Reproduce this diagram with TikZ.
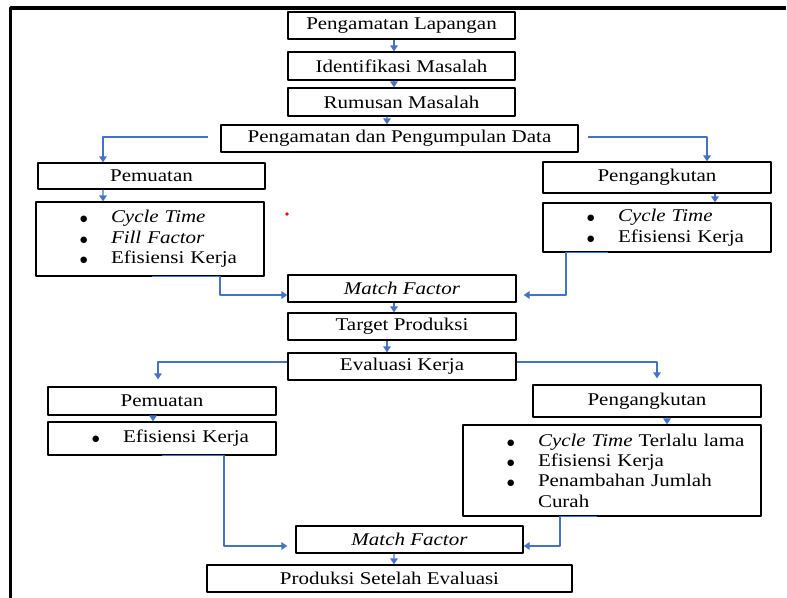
\documentclass[tikz,border=0pt]{standalone}
\usepackage{fontspec}
\setmainfont{Liberation Serif}[FakeStretch=1.17]
\newfontfamily\dotfont{DejaVu Sans}
\usepackage{xcolor}
\usetikzlibrary{arrows.meta,calc}
\definecolor{linkblue}{RGB}{68,114,196}
\newcommand{\itm}[1]{\hspace*{44bp}\makebox[31bp][l]{\raisebox{1bp}{\dotfont\fontsize{8.5}{8.5}\selectfont ●}}#1}

\begin{document}
\begin{tikzpicture}[x=1bp,y=-1bp,>={Triangle[length=6bp,width=7.5bp]},line join=round,
  box/.style={draw,line width=1.3bp,inner sep=0pt,font=\fontsize{18}{20.5}\selectfont},
  lst/.style={box,align=left,text width=#1},
  link/.style={->,draw=linkblue,line width=1.4bp}]
  \useasboundingbox (0,0) rectangle (787,598);
  \draw[line width=3.5bp] (10.7,598) -- (10.7,8.2) -- (786,8.2);
  \node[box,minimum width=227bp,minimum height=27bp] (PL) at (401.5,25.5) {Pengamatan Lapangan};
  \node[box,minimum width=227bp,minimum height=28bp] (IM) at (401.5,66) {Identifikasi Masalah};
  \node[box,minimum width=227bp,minimum height=28bp] (RM) at (401.5,102) {Rumusan Masalah};
  \node[box,minimum width=357bp,minimum height=27bp] (PD) at (399.5,138.5) {Pengamatan dan Pengumpulan Data};
  \node[box,minimum width=227bp,minimum height=26bp] (PM1) at (151.5,176) {Pemuatan};
  \node[box,minimum width=228bp,minimum height=31bp] (PA1) at (657,177.5) {Pengangkutan};
  \node[lst=228bp,minimum height=74bp] (L1) at (150,239)
    {\itm{\textit{Cycle Time}}\\\itm{\textit{Fill Factor}}\\\itm{Efisiensi Kerja}};
  \node[lst=228bp,minimum height=49bp] (L2) at (657,227.5)
    {\itm{\textit{Cycle Time}}\\\itm{Efisiensi Kerja}};
  \node[box,minimum width=228bp,minimum height=27bp] (MF1) at (402,288.5) {\textit{Match Factor}};
  \node[box,minimum width=228bp,minimum height=27bp] (TP) at (402,326.5) {Target Produksi};
  \node[box,minimum width=228bp,minimum height=27bp] (EK) at (402,366.5) {Evaluasi Kerja};
  \node[box,minimum width=228bp,minimum height=28bp] (PM2) at (162,401) {Pemuatan};
  \node[box,minimum width=228bp,minimum height=32bp] (PA2) at (647,401) {Pengangkutan};
  \node[lst=228bp,minimum height=33bp] (L3) at (162,438.5) {\itm{Efisiensi Kerja}};
  \node[lst=298bp,minimum height=91bp] (L4) at (612,470.5)
    {\itm{\textit{Cycle Time} Terlalu lama}\\\itm{Efisiensi Kerja}\\\itm{Penambahan Jumlah}\\\hspace*{75bp}Curah};
  \node[box,minimum width=227bp,minimum height=27bp] (MF2) at (409.5,539.5) {\textit{Match Factor}};
  \node[box,minimum width=365bp,minimum height=27bp] (PSE) at (389.5,578.5) {Produksi Setelah Evaluasi};
  \coordinate (S1) at (208,137);
  \coordinate (S2) at (588,137);
  \draw[link] ([xshift=-7.5bp]PL.south) -- ([xshift=-7.5bp]IM.north);
  \draw[link] ([xshift=-7.5bp]IM.south) -- ([xshift=-7.5bp]RM.north);
  \draw[link] ([xshift=-14.5bp]RM.south) -- ([xshift=-12.5bp]PD.north);
  \draw[link] (S1) -| ([xshift=-48.5bp]PM1.north);
  \draw[link] (S2) -| ([xshift=50bp]PA1.north);
  \draw[link] ([xshift=-48.5bp]PM1.south) -- ([xshift=-47bp]L1.north);
  \draw[link] ([xshift=58bp]PA1.south) -- ([xshift=58bp]L2.north);
  \draw[link] ([xshift=2bp]L1.south) -- ++(68,0) |- ([yshift=-6.5bp]MF1.west);
  \draw[link] ([xshift=-49bp]L2.south) -- ++(-42,0) |- ([xshift=7bp,yshift=-6.5bp]MF1.east);
  \draw[link] ([xshift=-8bp]MF1.south) -- ([xshift=-8bp]TP.north);
  \draw[link] ([xshift=-15bp]TP.south) -- ([xshift=-15bp]EK.north);
  \draw[link] ([yshift=4.5bp]EK.west) -| ([xshift=-4bp,yshift=7bp]PM2.north);
  \draw[link] ([yshift=4.5bp]EK.east) -| ([xshift=10bp,yshift=6bp]PA2.north);
  \draw[link] ([xshift=-9bp]PM2.south) -- ([xshift=-9bp]L3.north);
  \draw[link] ([xshift=20bp]PA2.south) -- ([xshift=55bp]L4.north);
  \draw[link] (L3.south) -- ++(62,0) |- ([xshift=-8bp,yshift=-6.5bp]MF2.west);
  \draw[link] ([xshift=-15bp]L4.south) -- ++(-37,0) |- ([yshift=-6.5bp]MF2.east);
  \draw[link] ([xshift=-15.5bp]MF2.south) -- ([xshift=4.5bp]PSE.north);
  \fill[red] (287,214) circle (1.8bp);
\end{tikzpicture}
\end{document}
